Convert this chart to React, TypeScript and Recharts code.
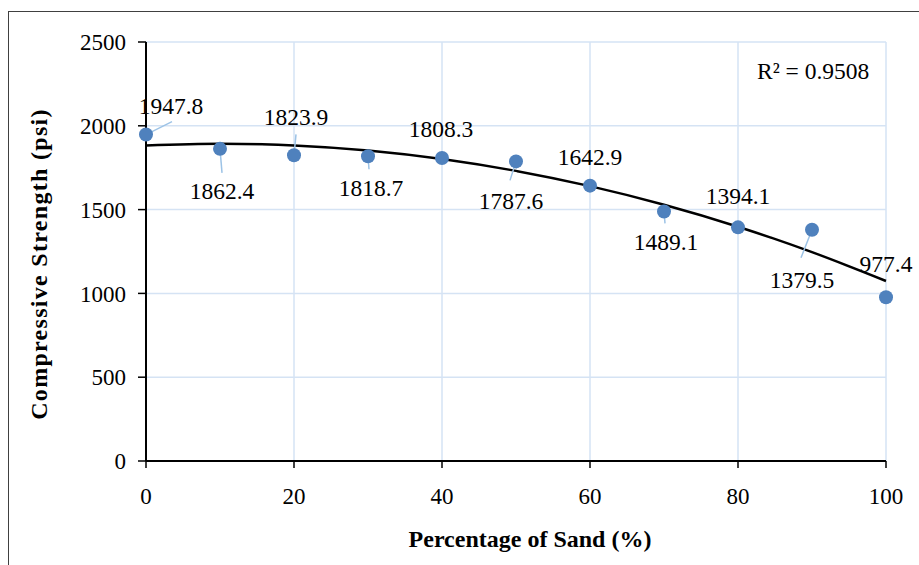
import React from 'react';
import {
  ComposedChart,
  Scatter,
  Line,
  XAxis,
  YAxis,
  CartesianGrid,
} from 'recharts';

const sandPercent = [0, 10, 20, 30, 40, 50, 60, 70, 80, 90, 100];
const strength = [1947.8, 1862.4, 1823.9, 1818.7, 1808.3, 1787.6, 1642.9, 1489.1, 1394.1, 1379.5, 977.4];
// polynomial trend line values
const trendValues = [1883, 1893, 1883, 1853, 1802, 1731, 1640, 1529, 1398, 1246, 1074];
const xTicks = [0, 20, 40, 60, 80, 100];
const yTicks = [0, 500, 1000, 1500, 2000, 2500];

// label placement relative to each dot: [dx, dy, leaderDx, leaderDy]
const labelOffsets: number[][] = [
  [25, -29, 26, -13],
  [2, 42, 2, 24],
  [2, -38, 2, -21],
  [3, 32, 1, 13],
  [-1, -29, 0, 0],
  [-5, 40, -6, 19],
  [0, -29, 0, 0],
  [2, 31, 1, 12],
  [0, -31, 0, 0],
  [-10, 50, -11, 28],
  [0, -33, 0, 0],
];

const points = sandPercent.map((x, i) => ({ x, strength: strength[i] }));
const trendData = sandPercent.map((x, i) => ({ x, trend: trendValues[i] }));

const FONT = '"Liberation Serif", "Times New Roman", serif';
const DOT = '#4F81BD';
const LEADER = '#9DC3E6';

const DotWithLabel = (props: any) => {
  const { cx, cy, payload } = props;
  if (cx == null || cy == null) return null;
  const i = sandPercent.indexOf(payload.x);
  const [dx, dy, lx, ly] = labelOffsets[i] || [0, -30, 0, 0];
  return (
    <g>
      {(lx !== 0 || ly !== 0) && (
        <line x1={cx} y1={cy} x2={cx + lx} y2={cy + ly} stroke={LEADER} strokeWidth={1.5} />
      )}
      <circle cx={cx} cy={cy} r={7} fill={DOT} />
      <text
        x={cx + dx}
        y={cy + dy}
        textAnchor="middle"
        dominantBaseline="central"
        fontFamily={FONT}
        fontSize={23.5}
        fill="#000"
      >
        {payload.strength}
      </text>
    </g>
  );
};

export default function App() {
  return (
    <div
      style={{
        position: 'fixed',
        left: 8,
        top: 11,
        width: 911,
        height: 554,
        borderLeft: '1px solid #404040',
        borderTop: '1px solid #404040',
        background: '#fff',
      }}
    >
      <ComposedChart
        width={910}
        height={553}
        margin={{ top: 30, right: 33, left: 7, bottom: 64 }}
      >
        <CartesianGrid stroke="#D5E3F4" strokeWidth={1.5} />
        <XAxis
          type="number"
          dataKey="x"
          domain={[0, 100]}
          ticks={xTicks}
          height={40}
          tickSize={7}
          tickMargin={20}
          axisLine={{ stroke: '#000', strokeWidth: 2 }}
          tickLine={{ stroke: '#000', strokeWidth: 1.5 }}
          tick={{ fill: '#000', fontSize: 23, fontFamily: FONT }}
          label={{
            content: () => (
              <text
                x={521}
                y={527}
                textAnchor="middle"
                dominantBaseline="central"
                fontFamily={FONT}
                fontSize={24}
                fontWeight="bold"
                fill="#000"
              >
                Percentage of Sand (%)
              </text>
            ),
          }}
        />
        <YAxis
          type="number"
          domain={[0, 2500]}
          ticks={yTicks}
          width={130}
          tickSize={8}
          tickMargin={12}
          axisLine={{ stroke: '#000', strokeWidth: 2 }}
          tickLine={{ stroke: '#000', strokeWidth: 1.5 }}
          tick={{ fill: '#000', fontSize: 23, fontFamily: FONT }}
          label={{
            content: () => (
              <text
                x={30}
                y={252}
                transform="rotate(-90 30 252)"
                textAnchor="middle"
                dominantBaseline="central"
                fontFamily={FONT}
                fontSize={24}
                letterSpacing={1.3}
                fontWeight="bold"
                fill="#000"
              >
                Compressive Strength (psi)
              </text>
            ),
          }}
        />
        <Scatter
          data={points}
          dataKey="strength"
          shape={DotWithLabel}
          isAnimationActive={false}
        />
        <Line
          data={trendData}
          dataKey="trend"
          type="monotone"
          stroke="#000"
          strokeWidth={2.5}
          dot={false}
          activeDot={false}
          isAnimationActive={false}
        />
      </ComposedChart>
      <div
        style={{
          position: 'absolute',
          left: 748,
          top: 46,
          fontFamily: FONT,
          fontSize: 23.5,
          color: '#000',
          whiteSpace: 'nowrap',
        }}
      >
        R² = 0.9508
      </div>
    </div>
  );
}
